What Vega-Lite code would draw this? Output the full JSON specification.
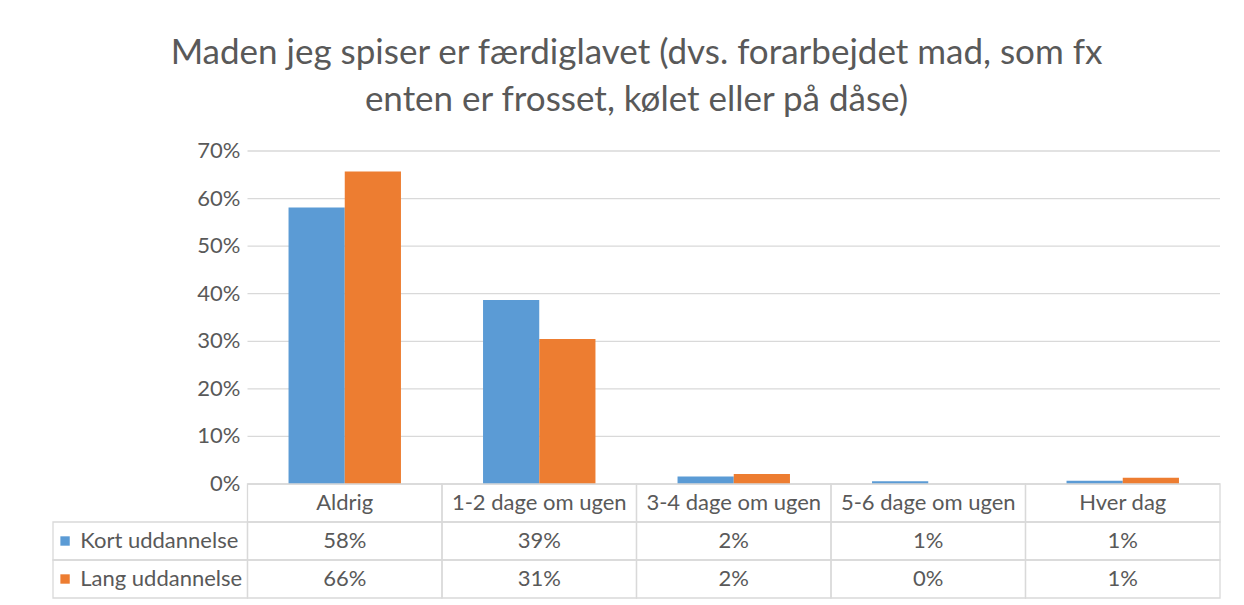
{
  "$schema": "https://vega.github.io/schema/vega-lite/v6.json",
  "padding": {"left": 52, "top": 36, "right": 20, "bottom": 5},
  "background": "white",
  "bounds": "flush",
  "spacing": 0,
  "config": {
    "font": "Lato",
    "view": {"stroke": null},
    "text": {"font": "Lato"}
  },
  "title": {
    "text": ["Maden jeg spiser er færdiglavet (dvs. forarbejdet mad, som fx", "enten er frosset, kølet eller på dåse)"],
    "font": "Lato",
    "fontSize": 35,
    "fontWeight": "normal",
    "color": "#595959",
    "lineHeight": 47,
    "anchor": "middle",
    "offset": 22
  },
  "datasets": {
    "main": [
      {"cat": "Aldrig", "series": "Kort uddannelse", "value": 0.581},
      {"cat": "Aldrig", "series": "Lang uddannelse", "value": 0.657},
      {"cat": "1-2 dage om ugen", "series": "Kort uddannelse", "value": 0.387},
      {"cat": "1-2 dage om ugen", "series": "Lang uddannelse", "value": 0.305},
      {"cat": "3-4 dage om ugen", "series": "Kort uddannelse", "value": 0.016},
      {"cat": "3-4 dage om ugen", "series": "Lang uddannelse", "value": 0.021},
      {"cat": "5-6 dage om ugen", "series": "Kort uddannelse", "value": 0.006},
      {"cat": "5-6 dage om ugen", "series": "Lang uddannelse", "value": 0.0},
      {"cat": "Hver dag", "series": "Kort uddannelse", "value": 0.007},
      {"cat": "Hver dag", "series": "Lang uddannelse", "value": 0.013}
    ],
    "ticks": [
      {"v": 0}, {"v": 0.1}, {"v": 0.2}, {"v": 0.3}, {"v": 0.4}, {"v": 0.5}, {"v": 0.6}, {"v": 0.7}
    ]
  },
  "vconcat": [
    {
      "width": 1167,
      "height": 333,
      "layer": [
        {
          "data": {"name": "ticks"},
          "mark": {"type": "rule", "color": "#d9d9d9", "strokeWidth": 1.3},
          "encoding": {
            "y": {"field": "v", "type": "quantitative", "scale": {"domain": [0, 0.7]}, "axis": null},
            "x": {"datum": "Aldrig", "type": "nominal", "bandPosition": 0,
                  "scale": {"domain": ["_", "Aldrig", "1-2 dage om ugen", "3-4 dage om ugen", "5-6 dage om ugen", "Hver dag"], "paddingInner": 0, "paddingOuter": 0}, "axis": null},
            "x2": {"datum": "Hver dag", "bandPosition": 1}
          }
        },
        {
          "data": {"name": "ticks"},
          "mark": {"type": "text", "font": "Lato", "fontSize": 22, "color": "#595959", "align": "right", "baseline": "middle", "dx": -7},
          "encoding": {
            "y": {"field": "v", "type": "quantitative"},
            "x": {"datum": "_", "type": "nominal", "bandPosition": 1},
            "text": {"field": "v", "type": "quantitative", "format": ".0%"}
          }
        },
        {
          "data": {"name": "main"},
          "mark": {"type": "bar"},
          "encoding": {
            "x": {"field": "cat", "type": "nominal", "sort": null},
            "xOffset": {"field": "series", "type": "nominal", "scale": {"paddingInner": 0, "paddingOuter": 0.73}},
            "y": {"field": "value", "type": "quantitative"},
            "color": {"field": "series", "type": "nominal", "scale": {"domain": ["Kort uddannelse", "Lang uddannelse"], "range": ["#5B9BD5", "#ED7D31"]}, "legend": null}
          }
        }
      ]
    },
    {
      "width": 1167,
      "height": 114,
      "encoding": {
        "y": {"type": "nominal", "scale": {"domain": ["hdr", "Kort uddannelse", "Lang uddannelse"], "paddingInner": 0, "paddingOuter": 0}, "axis": null}
      },
      "layer": [
        {
          "data": {"name": "main"},
          "transform": [{"filter": "datum.series == 'Kort uddannelse'"}],
          "mark": {"type": "rect", "fill": null, "stroke": "#d9d9d9", "strokeWidth": 1.3},
          "encoding": {
            "x": {"field": "cat", "type": "nominal", "sort": null,
                  "scale": {"domain": ["_", "Aldrig", "1-2 dage om ugen", "3-4 dage om ugen", "5-6 dage om ugen", "Hver dag"], "paddingInner": 0, "paddingOuter": 0}, "axis": null},
            "y": {"datum": "hdr", "type": "nominal"}
          }
        },
        {
          "data": {"name": "main"},
          "mark": {"type": "rect", "fill": null, "stroke": "#d9d9d9", "strokeWidth": 1.3},
          "encoding": {
            "x": {"field": "cat", "type": "nominal", "sort": null},
            "y": {"field": "series", "type": "nominal"}
          }
        },
        {
          "data": {"name": "main"},
          "transform": [{"filter": "datum.cat == 'Aldrig'"}],
          "mark": {"type": "rect", "fill": null, "stroke": "#d9d9d9", "strokeWidth": 1.3},
          "encoding": {
            "x": {"datum": "_", "type": "nominal"},
            "y": {"field": "series", "type": "nominal"}
          }
        },
        {
          "data": {"name": "main"},
          "transform": [{"filter": "datum.series == 'Kort uddannelse'"}],
          "mark": {"type": "text", "font": "Lato", "fontSize": 22, "color": "#595959"},
          "encoding": {
            "x": {"field": "cat", "type": "nominal", "sort": null},
            "y": {"datum": "hdr", "type": "nominal"},
            "text": {"field": "cat", "type": "nominal"}
          }
        },
        {
          "data": {"name": "main"},
          "mark": {"type": "text", "font": "Lato", "fontSize": 22, "color": "#595959"},
          "encoding": {
            "x": {"field": "cat", "type": "nominal", "sort": null},
            "y": {"field": "series", "type": "nominal"},
            "text": {"field": "value", "type": "quantitative", "format": ".0%"}
          }
        },
        {
          "data": {"name": "main"},
          "transform": [{"filter": "datum.cat == 'Aldrig'"}],
          "mark": {"type": "text", "font": "Lato", "fontSize": 22, "color": "#595959", "align": "left"},
          "encoding": {
            "x": {"datum": "_", "type": "nominal", "bandPosition": 0.14},
            "y": {"field": "series", "type": "nominal"},
            "text": {"field": "series", "type": "nominal"}
          }
        },
        {
          "data": {"name": "main"},
          "transform": [{"filter": "datum.cat == 'Aldrig'"}],
          "mark": {"type": "point", "shape": "square", "filled": true, "size": 88, "opacity": 1},
          "encoding": {
            "x": {"datum": "_", "type": "nominal", "bandPosition": 0.062},
            "y": {"field": "series", "type": "nominal"},
            "color": {"field": "series", "type": "nominal", "scale": {"domain": ["Kort uddannelse", "Lang uddannelse"], "range": ["#5B9BD5", "#ED7D31"]}, "legend": null}
          }
        }
      ]
    }
  ]
}
